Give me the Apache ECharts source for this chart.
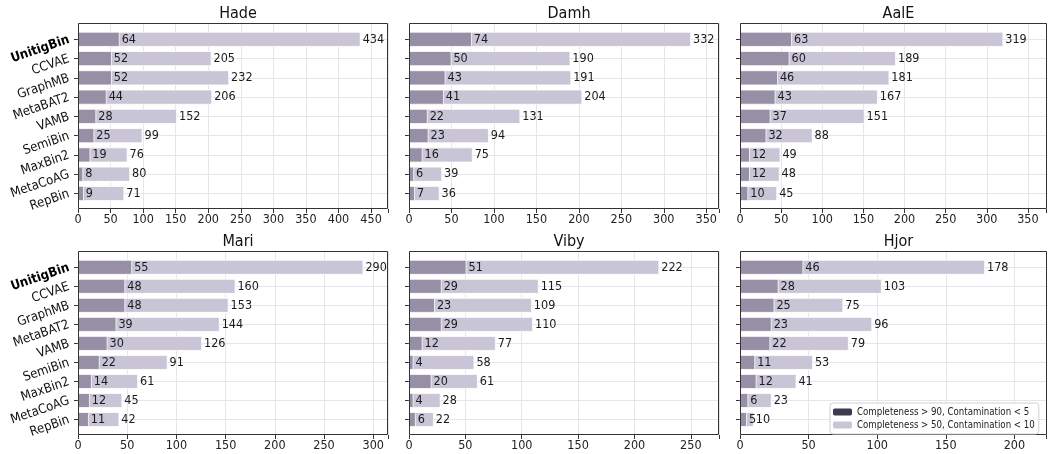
<!DOCTYPE html>
<html>
<head>
<meta charset="utf-8">
<script src="https://cdn.jsdelivr.net/npm/echarts@6/dist/echarts.min.js"></script>
<style>
  html, body { margin: 0; padding: 0; background: #fff; }
  #chart { width: 1049px; height: 454px; }
</style>
</head>
<body>
<div id="chart"></div>
<script>
// Binning tools, top to bottom in every panel
const categories = ['UnitigBin', 'CCVAE', 'GraphMB', 'MetaBAT2', 'VAMB', 'SemiBin', 'MaxBin2', 'MetaCoAG', 'RepBin'];

// Sample names, one panel each
const samples = ['Hade', 'Damh', 'AalE', 'Mari', 'Viby', 'Hjor'];

// Number of bins with Completeness > 90, Contamination < 5
const hqHade = [64, 52, 52, 44, 28, 25, 19, 8, 9];
const hqDamh = [74, 50, 43, 41, 22, 23, 16, 6, 7];
const hqAalE = [63, 60, 46, 43, 37, 32, 12, 12, 10];
const hqMari = [55, 48, 48, 39, 30, 22, 14, 12, 11];
const hqViby = [51, 29, 23, 29, 12, 4, 20, 4, 6];
const hqHjor = [46, 28, 25, 23, 22, 11, 12, 6, 5];

// Number of bins with Completeness > 50, Contamination < 10
const mqHade = [434, 205, 232, 206, 152, 99, 76, 80, 71];
const mqDamh = [332, 190, 191, 204, 131, 94, 75, 39, 36];
const mqAalE = [319, 189, 181, 167, 151, 88, 49, 48, 45];
const mqMari = [290, 160, 153, 144, 126, 91, 61, 45, 42];
const mqViby = [222, 115, 109, 110, 77, 58, 61, 28, 22];
const mqHjor = [178, 103, 75, 96, 79, 53, 41, 23, 10];

// Upper x limit of each panel and the tick step
const xMax = [476, 365, 372, 315, 275, 223];
const xTickStep = 50;

const seriesNames = ['Completeness > 90, Contamination < 5', 'Completeness > 50, Contamination < 10'];

const hq = [hqHade, hqDamh, hqAalE, hqMari, hqViby, hqHjor];
const mq = [mqHade, mqDamh, mqAalE, mqMari, mqViby, mqHjor];

// Panel frames (px)
const colLeft = [78, 409, 740];
const colRight = [388, 719, 1047];
const rowTop = [23, 251];
const rowBottom = [209, 435];
// first / last bar centre offset inside a frame
const padTop = 16.3;
const padBottom = 15.5;

const FONT = "'DejaVu Sans Condensed', 'DejaVu Sans', sans-serif";
const darkBar = '#978fa6';
const lightBar = '#c9c5d6';
const darkLegend = '#3d3a51';
const gridColor = '#e2e7ee';

const grids = [], xAxes = [], yAxes = [], series = [], titles = [], frames = [];

samples.forEach((name, p) => {
  const c = p % 3, r = Math.floor(p / 3);
  const left = colLeft[c], right = 1049 - colRight[c];
  const top = rowTop[r], height = rowBottom[r] - rowTop[r];
  const outer = 2 * p, inner = 2 * p + 1;

  // outer grid: frame extent, carries the x ticks, labels and vertical grid
  grids.push({ left: left, right: right, top: top, height: height, containLabel: false });
  // inner grid: the bar band, carries categories and horizontal grid
  grids.push({ left: left, right: right, top: top + padTop, height: height - padTop - padBottom, containLabel: false });

  xAxes.push({
    gridIndex: outer, type: 'value', min: 0, max: xMax[p], interval: xTickStep,
    axisLine: { show: false },
    axisTick: { show: true, length: 4, lineStyle: { color: '#333', width: 1 } },
    axisLabel: {
      fontFamily: FONT, fontSize: 12.5, color: '#222', margin: 4,
      formatter: v => (v % xTickStep === 0 ? String(v) : '')
    },
    splitLine: { show: true, lineStyle: { color: gridColor, width: 1 } }
  });
  xAxes.push({
    gridIndex: inner, type: 'value', min: 0, max: xMax[p], show: false,
    splitLine: { show: false }
  });

  yAxes.push({ gridIndex: outer, type: 'value', show: false, splitLine: { show: false } });
  yAxes.push({
    gridIndex: inner, type: 'category', data: categories, inverse: true, boundaryGap: false,
    axisLine: { show: false },
    axisTick: { show: true, length: 4, lineStyle: { color: '#333', width: 1 } },
    splitLine: { show: true, lineStyle: { color: gridColor, width: 1 } },
    axisLabel: {
      show: c === 0, rotate: 19, margin: 9, fontFamily: FONT, fontSize: 13, color: '#111',
      formatter: v => (v === 'UnitigBin' ? '{b|' + v + '}' : v),
      rich: { b: { fontFamily: FONT, fontSize: 13, fontWeight: 'bold', color: '#000' } }
    }
  });

  const labelStyle = { show: true, position: 'right', distance: 2, fontFamily: FONT, fontSize: 12.5, color: '#1a1a1a' };

  series.push({
    name: seriesNames[1], type: 'bar', xAxisIndex: inner, yAxisIndex: inner,
    data: mq[p], barWidth: '78%', barGap: '-100%', clip: false, z: 2,
    itemStyle: { color: lightBar, borderColor: '#fff', borderWidth: 0.8 },
    label: labelStyle
  });
  series.push({
    name: seriesNames[0], type: 'bar', xAxisIndex: inner, yAxisIndex: inner,
    data: hq[p], barWidth: '78%', barGap: '-100%', clip: false, z: 3,
    itemStyle: { color: darkBar, borderColor: '#fff', borderWidth: 0.8 },
    label: labelStyle
  });

  titles.push({
    text: name, left: (colLeft[c] + colRight[c]) / 2, top: top - 22, textAlign: 'center',
    textStyle: { fontFamily: FONT, fontSize: 16, fontWeight: 'normal', color: '#111' }
  });

  frames.push({
    type: 'rect', z: 100, silent: true,
    shape: { x: colLeft[c] + 0.5, y: top + 0.5, width: colRight[c] - colLeft[c] - 1, height: height - 1 },
    style: { fill: 'none', stroke: '#333', lineWidth: 1 }
  });
});

const chart = echarts.init(document.getElementById('chart'), null, { renderer: 'canvas' });
chart.setOption({
  backgroundColor: '#fff',
  animation: false,
  title: titles,
  grid: grids,
  xAxis: xAxes,
  yAxis: yAxes,
  series: series,
  graphic: frames,
  legend: {
    orient: 'vertical', left: 830, top: 403, z: 120,
    itemWidth: 19, itemHeight: 7, itemGap: 3,
    padding: [4, 4, 4, 3],
    backgroundColor: 'rgba(255,255,255,0.85)', borderColor: '#d0d0d0', borderWidth: 1, borderRadius: 3,
    textStyle: { fontFamily: FONT, fontSize: 9.6, color: '#222' },
    data: [
      { name: seriesNames[0], itemStyle: { color: darkLegend, borderWidth: 0 } },
      { name: seriesNames[1], itemStyle: { color: lightBar, borderWidth: 0 } }
    ]
  }
});
</script>
</body>
</html>
